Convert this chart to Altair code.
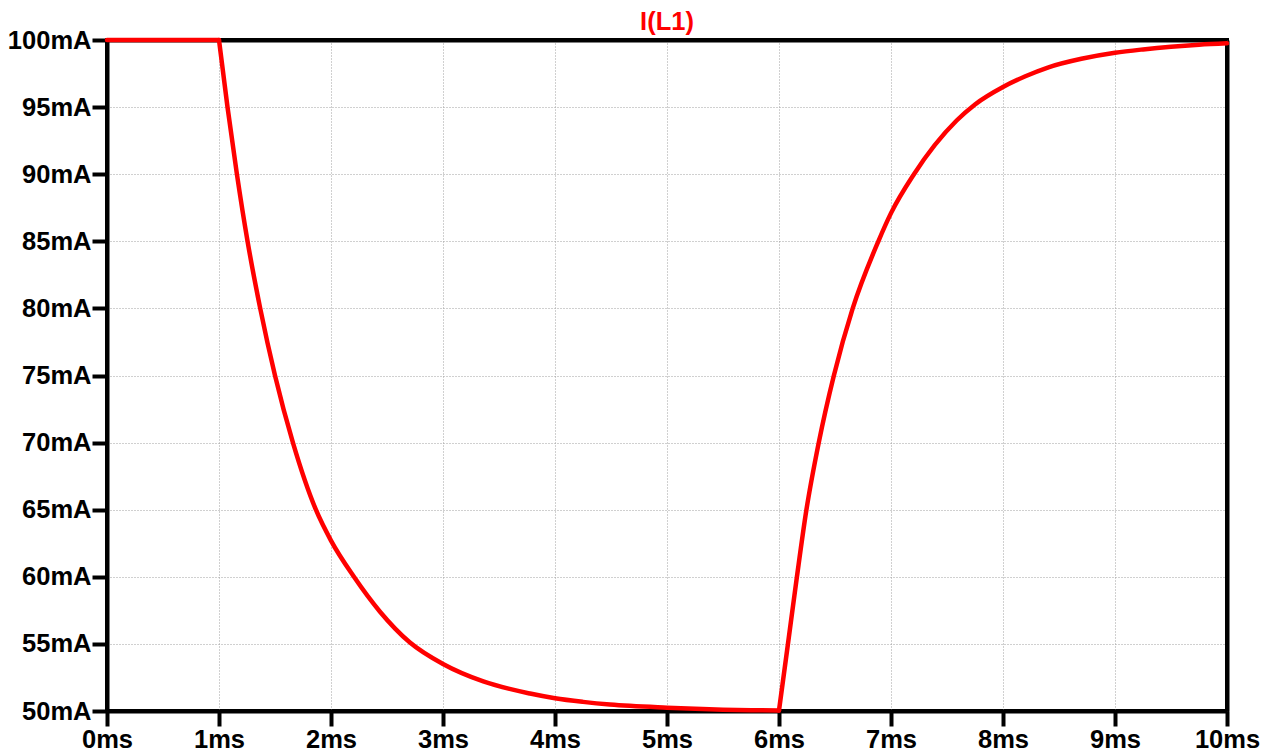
import altair as alt
import pandas as pd

# Time (ms) and inductor current I(L1) (mA)
time_ms = [0.0, 1.0,
           1.0, 1.076, 1.16, 1.255, 1.368, 1.5, 1.66, 1.865, 2.0, 2.205, 2.4375,
           2.705, 3.0, 3.36, 3.777, 4.0, 4.25, 4.49, 5.0, 5.25, 5.5, 5.75, 6.0,
           6.0, 6.08, 6.16, 6.245, 6.355, 6.49, 6.658, 6.887, 7.0, 7.205, 7.586, 7.75,
           8.0, 8.2, 8.4, 8.7, 9.0, 9.25, 9.5, 9.75, 10.0]
current_mA = [100.0, 100.0,
              100.0, 95.0, 90.0, 85.0, 80.0, 75.0, 70.0, 65.0, 62.7, 60.0, 57.4,
              55.1, 53.5, 52.2, 51.3, 50.95, 50.68, 50.48, 50.25, 50.17, 50.1, 50.06, 50.04,
              50.04, 55.0, 60.0, 65.0, 70.0, 75.0, 80.0, 85.0, 87.1, 90.0, 94.0, 95.2,
              96.5, 97.3, 97.95, 98.6, 99.05, 99.3, 99.5, 99.65, 99.75]
segment = ["hold"] * 2 + ["decay"] * 23 + ["rise"] * 21

x_ticks = list(range(0, 11))
y_ticks = list(range(50, 101, 5))

df = pd.DataFrame({"t": time_ms, "i": current_mA, "seg": segment})
df["idx"] = range(len(df))

FONT = "Liberation Sans"

axis_common = dict(
    title=None,
    grid=True,
    gridColor="#a0a0a0",
    gridDash=[1, 2],
    gridWidth=1,
    domainColor="black",
    domainWidth=4,
    tickColor="black",
    tickWidth=4,
    tickSize=15,
    labelFont=FONT,
    labelFontWeight="bold",
    labelFontSize=25.5,
    labelColor="black",
    labelFlush=False,
    labelOverlap=False,
)

frame_axis = dict(title=None, labels=False, ticks=False, grid=False,
                  domainColor="black", domainWidth=4)

x_scale = alt.Scale(domain=[0, 10], nice=False, zero=False)
y_scale = alt.Scale(domain=[50, 100], nice=False, zero=False)

# invisible layer that only carries the top and right frame lines
frame = (
    alt.Chart(df)
    .mark_line(opacity=0)
    .encode(
        x=alt.X("t:Q", scale=x_scale, axis=alt.Axis(orient="top", **frame_axis)),
        y=alt.Y("i:Q", scale=y_scale, axis=alt.Axis(orient="right", **frame_axis)),
        detail="seg:N",
    )
)

curve = (
    alt.Chart(df)
    .mark_line(color="#ff0000", strokeWidth=4.5, clip=False, interpolate="monotone",
               strokeCap="round", strokeJoin="round")
    .encode(
        x=alt.X("t:Q", scale=x_scale,
                axis=alt.Axis(values=x_ticks, labelExpr="datum.value + 'ms'",
                              labelPadding=1, **axis_common)),
        y=alt.Y("i:Q", scale=y_scale,
                axis=alt.Axis(values=y_ticks, labelExpr="datum.value + 'mA'",
                              labelPadding=1, **axis_common)),
        detail="seg:N",
        order=alt.Order("idx:Q"),
    )
)

chart = (
    alt.layer(frame, curve)
    .resolve_axis(x="independent", y="independent")
    .properties(
        width=1120,
        height=671,
        background="white",
        title=alt.TitleParams("I(L1)", color="#ff0000", font=FONT, fontWeight="bold",
                              fontSize=25.5, anchor="middle", offset=8, dy=15),
        padding={"left": 99, "top": 32, "right": 36, "bottom": 44},
        autosize=alt.AutoSizeParams(type="none"),
    )
    .configure_view(stroke="black", strokeWidth=4)
)

chart.save("out.html", embed_options={"renderer": "svg", "actions": False})
